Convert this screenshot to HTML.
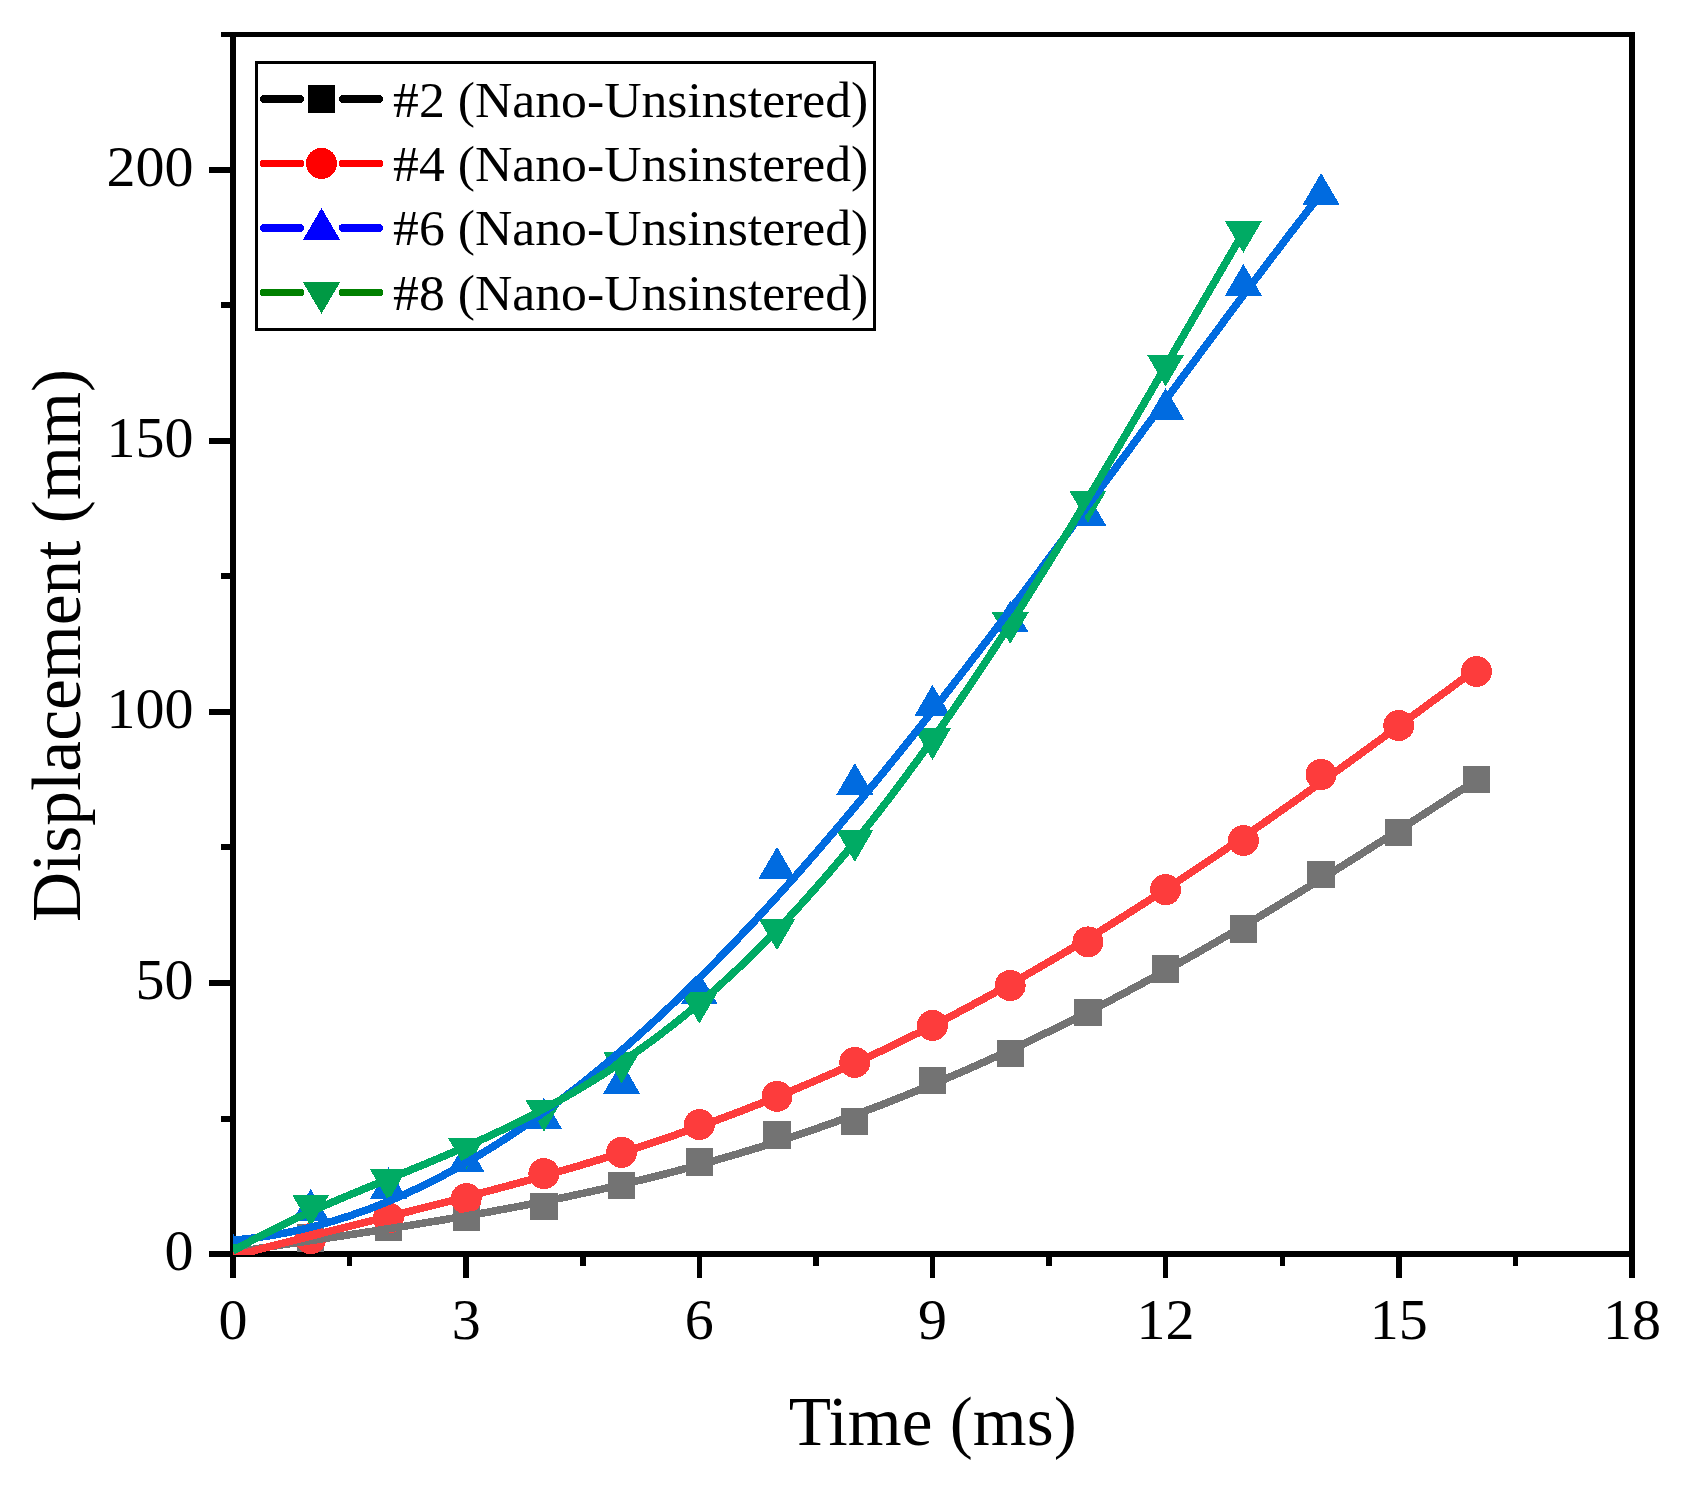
<!DOCTYPE html>
<html><head><meta charset="utf-8"><title>Displacement vs Time</title>
<style>
html,body{margin:0;padding:0;background:#fff;}
svg{display:block;}
text{font-family:"Liberation Serif","Times New Roman",serif;fill:#000;}
</style></head><body>
<svg width="1694" height="1495" viewBox="0 0 1694 1495" shape-rendering="crispEdges">
<rect width="1694" height="1495" fill="#fff"/>
<defs><clipPath id="c"><rect x="233" y="34.5" width="1399" height="1220.5"/></clipPath></defs>

<g fill="#000" stroke="none">
<rect x="230" y="32" width="6" height="1245.5"/>
<rect x="209" y="1251" width="1426" height="6"/>
<rect x="221" y="32" width="1414" height="5"/>
<rect x="1629" y="32" width="6" height="1245.5"/>
<rect x="209" y="1251.0" width="22" height="6"/>
<rect x="221" y="1115.5" width="10" height="6"/>
<rect x="209" y="979.9" width="22" height="6"/>
<rect x="221" y="844.4" width="10" height="6"/>
<rect x="209" y="708.8" width="22" height="6"/>
<rect x="221" y="573.2" width="10" height="6"/>
<rect x="209" y="437.7" width="22" height="6"/>
<rect x="221" y="302.2" width="10" height="6"/>
<rect x="209" y="166.6" width="22" height="6"/>
<rect x="230.2" y="1256" width="5.5" height="21.5"/>
<rect x="346.8" y="1256" width="5.5" height="9.5"/>
<rect x="463.4" y="1256" width="5.5" height="21.5"/>
<rect x="580.0" y="1256" width="5.5" height="9.5"/>
<rect x="696.6" y="1256" width="5.5" height="21.5"/>
<rect x="813.1" y="1256" width="5.5" height="9.5"/>
<rect x="929.7" y="1256" width="5.5" height="21.5"/>
<rect x="1046.3" y="1256" width="5.5" height="9.5"/>
<rect x="1162.9" y="1256" width="5.5" height="21.5"/>
<rect x="1279.5" y="1256" width="5.5" height="9.5"/>
<rect x="1396.0" y="1256" width="5.5" height="21.5"/>
<rect x="1512.6" y="1256" width="5.5" height="9.5"/>
<rect x="1629.2" y="1256" width="5.5" height="21.5"/>
</g>
<g clip-path="url(#c)">
<rect x="219.3" y="1240.3" width="27.3" height="27.3" fill="#737373"/>
<rect x="297.1" y="1224.3" width="27.3" height="27.3" fill="#737373"/>
<rect x="374.8" y="1213.5" width="27.3" height="27.3" fill="#737373"/>
<rect x="452.5" y="1203.3" width="27.3" height="27.3" fill="#737373"/>
<rect x="530.2" y="1192.8" width="27.3" height="27.3" fill="#737373"/>
<rect x="608.0" y="1171.6" width="27.3" height="27.3" fill="#737373"/>
<rect x="685.7" y="1148.3" width="27.3" height="27.3" fill="#737373"/>
<rect x="763.4" y="1121.2" width="27.3" height="27.3" fill="#737373"/>
<rect x="841.1" y="1108.1" width="27.3" height="27.3" fill="#737373"/>
<rect x="918.8" y="1066.8" width="27.3" height="27.3" fill="#737373"/>
<rect x="996.6" y="1040.1" width="27.3" height="27.3" fill="#737373"/>
<rect x="1074.3" y="998.6" width="27.3" height="27.3" fill="#737373"/>
<rect x="1152.0" y="955.4" width="27.3" height="27.3" fill="#737373"/>
<rect x="1229.7" y="915.2" width="27.3" height="27.3" fill="#737373"/>
<rect x="1307.4" y="860.9" width="27.3" height="27.3" fill="#737373"/>
<rect x="1385.1" y="819.0" width="27.3" height="27.3" fill="#737373"/>
<rect x="1462.9" y="766.1" width="27.3" height="27.3" fill="#737373"/>
<circle cx="233.0" cy="1254.0" r="15.5" fill="#FD3C3C"/>
<circle cx="310.7" cy="1238.7" r="15.5" fill="#FD3C3C"/>
<circle cx="388.4" cy="1218.0" r="15.5" fill="#FD3C3C"/>
<circle cx="466.2" cy="1198.6" r="15.5" fill="#FD3C3C"/>
<circle cx="543.9" cy="1173.6" r="15.5" fill="#FD3C3C"/>
<circle cx="621.6" cy="1152.3" r="15.5" fill="#FD3C3C"/>
<circle cx="699.3" cy="1124.6" r="15.5" fill="#FD3C3C"/>
<circle cx="777.0" cy="1096.4" r="15.5" fill="#FD3C3C"/>
<circle cx="854.8" cy="1062.4" r="15.5" fill="#FD3C3C"/>
<circle cx="932.5" cy="1025.4" r="15.5" fill="#FD3C3C"/>
<circle cx="1010.2" cy="985.5" r="15.5" fill="#FD3C3C"/>
<circle cx="1087.9" cy="941.9" r="15.5" fill="#FD3C3C"/>
<circle cx="1165.6" cy="889.7" r="15.5" fill="#FD3C3C"/>
<circle cx="1243.4" cy="840.5" r="15.5" fill="#FD3C3C"/>
<circle cx="1321.1" cy="774.5" r="15.5" fill="#FD3C3C"/>
<circle cx="1398.8" cy="725.5" r="15.5" fill="#FD3C3C"/>
<circle cx="1476.5" cy="671.5" r="15.5" fill="#FD3C3C"/>
<polygon points="214.6,1264.9 251.4,1264.9 233.0,1233.3" fill="#006BE0"/>
<polygon points="292.3,1220.5 329.1,1220.5 310.7,1188.9" fill="#006BE0"/>
<polygon points="370.0,1198.6 406.8,1198.6 388.4,1167.0" fill="#006BE0"/>
<polygon points="447.8,1172.2 484.6,1172.2 466.2,1140.6" fill="#006BE0"/>
<polygon points="525.5,1129.4 562.3,1129.4 543.9,1097.8" fill="#006BE0"/>
<polygon points="603.2,1093.5 640.0,1093.5 621.6,1061.9" fill="#006BE0"/>
<polygon points="680.9,1004.2 717.7,1004.2 699.3,972.6" fill="#006BE0"/>
<polygon points="758.6,878.5 795.4,878.5 777.0,846.9" fill="#006BE0"/>
<polygon points="836.4,794.6 873.2,794.6 854.8,763.0" fill="#006BE0"/>
<polygon points="914.1,716.4 950.9,716.4 932.5,684.8" fill="#006BE0"/>
<polygon points="991.8,632.3 1028.6,632.3 1010.2,600.7" fill="#006BE0"/>
<polygon points="1069.5,525.8 1106.3,525.8 1087.9,494.2" fill="#006BE0"/>
<polygon points="1147.2,419.6 1184.0,419.6 1165.6,388.0" fill="#006BE0"/>
<polygon points="1225.0,295.5 1261.8,295.5 1243.4,263.9" fill="#006BE0"/>
<polygon points="1302.7,204.6 1339.5,204.6 1321.1,173.0" fill="#006BE0"/>
<polygon points="214.6,1243.4 251.4,1243.4 233.0,1275.0" fill="#00AB64"/>
<polygon points="292.3,1195.0 329.1,1195.0 310.7,1226.6" fill="#00AB64"/>
<polygon points="370.0,1169.4 406.8,1169.4 388.4,1201.0" fill="#00AB64"/>
<polygon points="447.8,1137.7 484.6,1137.7 466.2,1169.3" fill="#00AB64"/>
<polygon points="525.5,1100.1 562.3,1100.1 543.9,1131.7" fill="#00AB64"/>
<polygon points="603.2,1051.9 640.0,1051.9 621.6,1083.5" fill="#00AB64"/>
<polygon points="680.9,992.1 717.7,992.1 699.3,1023.7" fill="#00AB64"/>
<polygon points="758.6,918.7 795.4,918.7 777.0,950.3" fill="#00AB64"/>
<polygon points="836.4,830.3 873.2,830.3 854.8,861.9" fill="#00AB64"/>
<polygon points="914.1,728.4 950.9,728.4 932.5,760.0" fill="#00AB64"/>
<polygon points="991.8,612.4 1028.6,612.4 1010.2,644.0" fill="#00AB64"/>
<polygon points="1069.5,491.1 1106.3,491.1 1087.9,522.7" fill="#00AB64"/>
<polygon points="1147.2,355.0 1184.0,355.0 1165.6,386.6" fill="#00AB64"/>
<polygon points="1225.0,221.2 1261.8,221.2 1243.4,252.8" fill="#00AB64"/>
<path d="M233.0,1252.5 L243.4,1250.9 L253.9,1249.2 L264.3,1247.6 L274.8,1246.0 L285.2,1244.4 L295.7,1242.9 L306.1,1241.3 L316.6,1239.7 L327.0,1238.1 L337.5,1236.6 L347.9,1235.0 L358.4,1233.4 L368.8,1231.8 L379.3,1230.2 L389.7,1228.5 L400.2,1226.9 L410.6,1225.2 L421.1,1223.5 L431.5,1221.8 L442.0,1220.1 L452.4,1218.3 L462.9,1216.5 L473.3,1214.7 L483.8,1212.9 L494.2,1211.0 L504.7,1209.0 L515.1,1207.1 L525.6,1205.1 L536.0,1203.0 L546.5,1201.0 L556.9,1198.8 L567.4,1196.7 L577.8,1194.4 L588.3,1192.2 L598.7,1189.9 L609.2,1187.5 L619.6,1185.1 L630.1,1182.6 L640.5,1180.1 L651.0,1177.5 L661.4,1174.9 L671.9,1172.2 L682.3,1169.4 L692.8,1166.6 L703.2,1163.7 L713.7,1160.8 L724.1,1157.8 L734.6,1154.8 L745.0,1151.6 L755.5,1148.5 L765.9,1145.2 L776.4,1141.9 L786.8,1138.5 L797.3,1135.1 L807.7,1131.6 L818.2,1128.0 L828.6,1124.3 L839.1,1120.6 L849.5,1116.8 L860.0,1113.0 L870.4,1109.1 L880.9,1105.1 L891.3,1101.0 L901.8,1096.9 L912.2,1092.7 L922.7,1088.4 L933.1,1084.1 L943.6,1079.7 L954.0,1075.2 L964.5,1070.7 L974.9,1066.1 L985.4,1061.4 L995.8,1056.7 L1006.3,1051.9 L1016.7,1047.0 L1027.2,1042.1 L1037.6,1037.0 L1048.1,1032.0 L1058.5,1026.8 L1069.0,1021.6 L1079.4,1016.4 L1089.9,1011.0 L1100.3,1005.6 L1110.8,1000.2 L1121.2,994.7 L1131.7,989.1 L1142.1,983.5 L1152.6,977.8 L1163.0,972.0 L1173.5,966.2 L1183.9,960.4 L1194.4,954.5 L1204.8,948.5 L1215.3,942.5 L1225.7,936.4 L1236.2,930.3 L1246.6,924.2 L1257.1,918.0 L1267.5,911.7 L1278.0,905.4 L1288.4,899.1 L1298.9,892.7 L1309.3,886.3 L1319.8,879.9 L1330.2,873.4 L1340.7,866.9 L1351.1,860.3 L1361.6,853.8 L1372.0,847.1 L1382.5,840.5 L1392.9,833.9 L1403.4,827.2 L1413.8,820.5 L1424.3,813.8 L1434.7,807.1 L1445.2,800.3 L1455.6,793.6 L1466.1,786.8 L1476.5,780.0" fill="none" stroke="#737373" stroke-width="7.6" stroke-linejoin="round"/>
<path d="M233.0,1256.5 L243.4,1253.6 L253.9,1250.8 L264.3,1248.0 L274.8,1245.3 L285.2,1242.6 L295.7,1239.9 L306.1,1237.2 L316.6,1234.6 L327.0,1231.9 L337.5,1229.3 L347.9,1226.7 L358.4,1224.1 L368.8,1221.5 L379.3,1218.9 L389.7,1216.3 L400.2,1213.7 L410.6,1211.1 L421.1,1208.4 L431.5,1205.8 L442.0,1203.1 L452.4,1200.5 L462.9,1197.8 L473.3,1195.0 L483.8,1192.3 L494.2,1189.5 L504.7,1186.7 L515.1,1183.9 L525.6,1181.0 L536.0,1178.1 L546.5,1175.2 L556.9,1172.2 L567.4,1169.1 L577.8,1166.1 L588.3,1162.9 L598.7,1159.8 L609.2,1156.5 L619.6,1153.3 L630.1,1149.9 L640.5,1146.6 L651.0,1143.1 L661.4,1139.6 L671.9,1136.1 L682.3,1132.5 L692.8,1128.8 L703.2,1125.1 L713.7,1121.3 L724.1,1117.4 L734.6,1113.5 L745.0,1109.5 L755.5,1105.4 L765.9,1101.3 L776.4,1097.1 L786.8,1092.8 L797.3,1088.4 L807.7,1084.0 L818.2,1079.5 L828.6,1075.0 L839.1,1070.4 L849.5,1065.7 L860.0,1060.9 L870.4,1056.0 L880.9,1051.1 L891.3,1046.1 L901.8,1041.0 L912.2,1035.9 L922.7,1030.7 L933.1,1025.4 L943.6,1020.0 L954.0,1014.6 L964.5,1009.1 L974.9,1003.5 L985.4,997.8 L995.8,992.1 L1006.3,986.3 L1016.7,980.4 L1027.2,974.4 L1037.6,968.4 L1048.1,962.3 L1058.5,956.2 L1069.0,950.0 L1079.4,943.7 L1089.9,937.3 L1100.3,930.9 L1110.8,924.4 L1121.2,917.9 L1131.7,911.2 L1142.1,904.6 L1152.6,897.8 L1163.0,891.0 L1173.5,884.2 L1183.9,877.3 L1194.4,870.3 L1204.8,863.3 L1215.3,856.3 L1225.7,849.2 L1236.2,842.0 L1246.6,834.8 L1257.1,827.5 L1267.5,820.3 L1278.0,812.9 L1288.4,805.6 L1298.9,798.2 L1309.3,790.7 L1319.8,783.2 L1330.2,775.7 L1340.7,768.2 L1351.1,760.7 L1361.6,753.1 L1372.0,745.5 L1382.5,737.9 L1392.9,730.3 L1403.4,722.6 L1413.8,715.0 L1424.3,707.3 L1434.7,699.6 L1445.2,692.0 L1455.6,684.3 L1466.1,676.7 L1476.5,669.0" fill="none" stroke="#FD3C3C" stroke-width="7.6" stroke-linejoin="round"/>
<path d="M233.0,1240.1 L242.1,1239.3 L251.3,1238.3 L260.4,1237.1 L269.6,1235.7 L278.7,1234.1 L287.9,1232.4 L297.0,1230.5 L306.1,1228.4 L315.3,1226.1 L324.4,1223.6 L333.6,1220.9 L342.7,1218.1 L351.9,1215.1 L361.0,1211.9 L370.2,1208.6 L379.3,1205.0 L388.4,1201.3 L397.6,1197.4 L406.7,1193.4 L415.9,1189.1 L425.0,1184.7 L434.2,1180.1 L443.3,1175.4 L452.4,1170.5 L461.6,1165.4 L470.7,1160.1 L479.9,1154.7 L489.0,1149.1 L498.2,1143.4 L507.3,1137.5 L516.4,1131.4 L525.6,1125.2 L534.7,1118.8 L543.9,1112.2 L553.0,1105.5 L562.2,1098.6 L571.3,1091.6 L580.5,1084.5 L589.6,1077.1 L598.7,1069.7 L607.9,1062.1 L617.0,1054.3 L626.2,1046.4 L635.3,1038.3 L644.5,1030.1 L653.6,1021.8 L662.7,1013.4 L671.9,1004.7 L681.0,996.0 L690.2,987.1 L699.3,978.1 L708.5,969.0 L717.6,959.8 L726.8,950.4 L735.9,940.9 L745.0,931.2 L754.2,921.5 L763.3,911.6 L772.5,901.7 L781.6,891.6 L790.8,881.4 L799.9,871.1 L809.0,860.7 L818.2,850.2 L827.3,839.5 L836.5,828.8 L845.6,818.0 L854.8,807.1 L863.9,796.1 L873.0,785.0 L882.2,773.9 L891.3,762.6 L900.5,751.3 L909.6,739.9 L918.8,728.4 L927.9,716.8 L937.1,705.2 L946.2,693.5 L955.3,681.7 L964.5,669.9 L973.6,658.0 L982.8,646.1 L991.9,634.1 L1001.1,622.0 L1010.2,609.9 L1019.3,597.8 L1028.5,585.6 L1037.6,573.4 L1046.8,561.1 L1055.9,548.8 L1065.1,536.5 L1074.2,524.2 L1083.3,511.8 L1092.5,499.4 L1101.6,487.0 L1110.8,474.6 L1119.9,462.2 L1129.1,449.8 L1138.2,437.3 L1147.4,424.9 L1156.5,412.5 L1165.6,400.0 L1174.8,387.6 L1183.9,375.2 L1193.1,362.9 L1202.2,350.5 L1211.4,338.2 L1220.5,325.9 L1229.6,313.6 L1238.8,301.4 L1247.9,289.2 L1257.1,277.1 L1266.2,265.0 L1275.4,253.0 L1284.5,241.0 L1293.6,229.1 L1302.8,217.2 L1311.9,205.4 L1321.1,193.7" fill="none" stroke="#006BE0" stroke-width="7.6" stroke-linejoin="round"/>
<path d="M233.0,1251.1 L241.5,1246.2 L250.0,1241.5 L258.5,1237.0 L267.0,1232.6 L275.5,1228.3 L283.9,1224.1 L292.4,1220.1 L300.9,1216.1 L309.4,1212.3 L317.9,1208.5 L326.4,1204.8 L334.9,1201.1 L343.4,1197.5 L351.9,1194.0 L360.4,1190.5 L368.8,1187.0 L377.3,1183.5 L385.8,1180.0 L394.3,1176.6 L402.8,1173.1 L411.3,1169.7 L419.8,1166.2 L428.3,1162.7 L436.8,1159.1 L445.3,1155.5 L453.8,1151.9 L462.2,1148.2 L470.7,1144.5 L479.2,1140.7 L487.7,1136.8 L496.2,1132.8 L504.7,1128.8 L513.2,1124.7 L521.7,1120.5 L530.2,1116.1 L538.7,1111.7 L547.1,1107.2 L555.6,1102.6 L564.1,1097.8 L572.6,1092.9 L581.1,1087.9 L589.6,1082.8 L598.1,1077.5 L606.6,1072.1 L615.1,1066.6 L623.6,1060.9 L632.0,1055.0 L640.5,1049.0 L649.0,1042.9 L657.5,1036.6 L666.0,1030.1 L674.5,1023.5 L683.0,1016.7 L691.5,1009.7 L700.0,1002.6 L708.5,995.3 L717.0,987.9 L725.4,980.2 L733.9,972.4 L742.4,964.4 L750.9,956.3 L759.4,947.9 L767.9,939.4 L776.4,930.7 L784.9,921.8 L793.4,912.8 L801.9,903.5 L810.3,894.1 L818.8,884.5 L827.3,874.8 L835.8,864.8 L844.3,854.7 L852.8,844.4 L861.3,833.9 L869.8,823.3 L878.3,812.5 L886.8,801.5 L895.3,790.4 L903.7,779.0 L912.2,767.5 L920.7,755.9 L929.2,744.1 L937.7,732.1 L946.2,720.0 L954.7,707.8 L963.2,695.3 L971.7,682.8 L980.2,670.1 L988.6,657.3 L997.1,644.3 L1005.6,631.2 L1014.1,618.0 L1022.6,604.6 L1031.1,591.1 L1039.6,577.6 L1048.1,563.9 L1056.6,550.1 L1065.1,536.2 L1073.6,522.2 L1082.0,508.1 L1090.5,494.0 L1099.0,479.8 L1107.5,465.5 L1116.0,451.1 L1124.5,436.7 L1133.0,422.2 L1141.5,407.7 L1150.0,393.1 L1158.5,378.5 L1166.9,363.9 L1175.4,349.3 L1183.9,334.6 L1192.4,320.0 L1200.9,305.3 L1209.4,290.7 L1217.9,276.1 L1226.4,261.5 L1234.9,246.9 L1243.4,232.4" fill="none" stroke="#00AB64" stroke-width="7.6" stroke-linejoin="round"/>
</g>
<g font-size="58">
<text x="193.5" y="1270.4" text-anchor="end">0</text>
<text x="193.5" y="999.3" text-anchor="end">50</text>
<text x="193.5" y="728.2" text-anchor="end">100</text>
<text x="193.5" y="457.1" text-anchor="end">150</text>
<text x="193.5" y="186.0" text-anchor="end">200</text>
<text x="233.0" y="1338.5" text-anchor="middle">0</text>
<text x="466.2" y="1338.5" text-anchor="middle">3</text>
<text x="699.3" y="1338.5" text-anchor="middle">6</text>
<text x="932.5" y="1338.5" text-anchor="middle">9</text>
<text x="1165.6" y="1338.5" text-anchor="middle">12</text>
<text x="1398.8" y="1338.5" text-anchor="middle">15</text>
<text x="1632.0" y="1338.5" text-anchor="middle">18</text>
</g>
<text transform="translate(932.7,1444.7) scale(0.991,1)" font-size="69.9" text-anchor="middle">Time (ms)</text>
<text transform="translate(79.7,645.5) rotate(-90) scale(0.993,1)" font-size="69.9" text-anchor="middle">Displacement (mm)</text>
<rect x="256.3" y="62.3" width="618.5" height="267.2" fill="#fff" stroke="#000" stroke-width="2.7"/>
<g stroke="#000" stroke-width="7.7" stroke-linecap="round"><line x1="263.8" y1="99" x2="300.3" y2="99"/><line x1="342.7" y1="99" x2="379.3" y2="99"/></g>
<rect x="307.8" y="85.1" width="27.4" height="27.9" fill="#000"/>
<text transform="translate(393.1,117.1) scale(1.026,1)" font-size="50.4">#2 (Nano-Unsinstered)</text>
<g stroke="#FF0000" stroke-width="7.7" stroke-linecap="round"><line x1="263.8" y1="163.4" x2="300.3" y2="163.4"/><line x1="342.7" y1="163.4" x2="379.3" y2="163.4"/></g>
<circle cx="321.5" cy="163.4" r="15.5" fill="#FF0000"/>
<text transform="translate(393.1,181.2) scale(1.026,1)" font-size="50.4">#4 (Nano-Unsinstered)</text>
<g stroke="#0000FF" stroke-width="7.7" stroke-linecap="round"><line x1="263.8" y1="227.9" x2="300.3" y2="227.9"/><line x1="342.7" y1="227.9" x2="379.3" y2="227.9"/></g>
<polygon points="302.9,239.9 340.1,239.9 321.5,208" fill="#0000FF"/>
<text transform="translate(393.1,245.4) scale(1.026,1)" font-size="50.4">#6 (Nano-Unsinstered)</text>
<g stroke="#008000" stroke-width="7.7" stroke-linecap="round"><line x1="263.8" y1="292.6" x2="300.3" y2="292.6"/><line x1="342.7" y1="292.6" x2="379.3" y2="292.6"/></g>
<polygon points="302.9,282.1 340.1,282.1 321.5,313.9" fill="#009944"/>
<text transform="translate(393.1,309.6) scale(1.026,1)" font-size="50.4">#8 (Nano-Unsinstered)</text>
</svg></body></html>
